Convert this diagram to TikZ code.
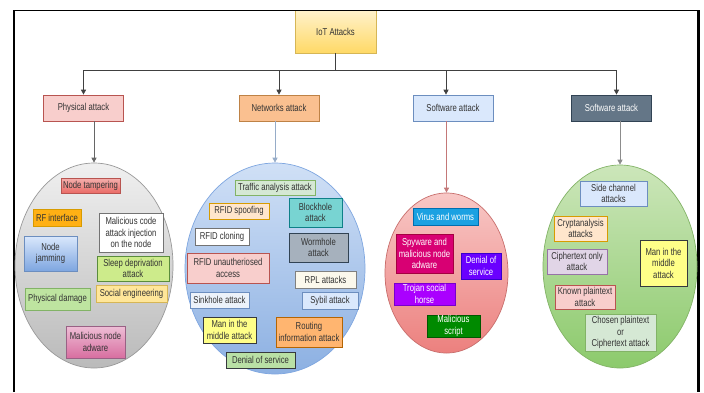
\documentclass[tikz,border=0pt]{standalone}
\usepackage{fontspec}
\setmainfont{Liberation Sans}[FakeStretch=0.77]
\usetikzlibrary{arrows.meta,shapes.geometric}

% palette
\definecolor{txt}{HTML}{333333}
\definecolor{rosefill}{HTML}{F8CECC}\definecolor{roseline}{HTML}{B85450}
\definecolor{orgfill}{HTML}{FFE6CC}\definecolor{orgline}{HTML}{D79B00}
\definecolor{bluefill}{HTML}{DAE8FC}\definecolor{blueline}{HTML}{6C8EBF}
\definecolor{greenfill}{HTML}{D5E8D4}\definecolor{greenline}{HTML}{82B366}
\definecolor{yelfill}{HTML}{FFFF88}\definecolor{darkline}{HTML}{36393D}
\definecolor{slatefill}{HTML}{647687}\definecolor{slateline}{HTML}{314354}
\definecolor{lilacfill}{HTML}{E1D5E7}\definecolor{lilacline}{HTML}{9673A6}
\definecolor{goldtop}{HTML}{FFF2CC}\definecolor{goldbot}{HTML}{FFD966}\definecolor{goldline}{HTML}{D6B656}

\tikzset{
  lbl/.style={font=\fontsize{10}{11.5}\selectfont},
  box/.style={draw, lbl, text=txt, inner sep=0pt, align=center, line width=0.7pt},
  topbox/.style={box, minimum width=80pt, minimum height=26pt},
  cloud/.style={ellipse, draw, inner sep=0pt, line width=0.7pt},
  bus/.style={draw=black!75, line width=0.8pt},
  tip/.style={-{Triangle[width=5pt,length=5pt]}},
}

\begin{document}
\begin{tikzpicture}[x=1pt,y=-1pt]
\useasboundingbox (0,0) rectangle (704,392);
\fill[white] (0,0) rectangle (704,392);

% root
\node[box, top color=goldtop, bottom color=goldbot, draw=goldline,
      minimum width=81pt, minimum height=43pt] (iot) at (335.5,31.5) {IoT Attacks};

% page frame
\draw[line width=2pt] (14,392) -- (14,10);
\draw[line width=3pt] (698,10) -- (698,392);
\draw[line width=1pt] (13,10) -- (699.5,10);

% categories
\node[topbox, fill=rosefill, draw=roseline] (pa) at (83.5,108) {Physical attack};
\node[topbox, fill={rgb,255:red,250;green,192;blue,144}, draw={rgb,255:red,190;green,130;blue,70}] (na) at (279,108) {Networks attack};
\node[topbox, fill=bluefill, draw=blueline] (sa) at (453,108) {Software attack};
\node[topbox, fill=slatefill, draw=slateline, text=white] (sd) at (611.5,108) {Software attack};

% distribution bus
\coordinate (busy) at (0,70);
\draw[bus] (iot.south) -- (iot.south |- busy);
\draw[bus] (pa.north |- busy) -- ([xshift=5pt]sd.north |- busy);
\draw[bus, tip] (pa.north |- busy) -- (pa.north);
\draw[bus, tip] (na.north |- busy) -- (na.north);
\draw[bus, tip] ([xshift=-7pt]sa.north |- busy) -- ([xshift=-7pt]sa.north);
\draw[bus, tip] ([xshift=5pt]sd.north |- busy) -- ([xshift=5pt]sd.north);

% groups
\node[cloud, top color=black!6, bottom color=black!27, draw=black!40,
      minimum width=158pt, minimum height=205pt] (ge) at (94,265.5) {};
\node[cloud, top color={rgb,255:red,208;green,224;blue,246}, bottom color={rgb,255:red,140;green,176;blue,226},
      draw={rgb,255:red,126;green,166;blue,224}, minimum width=180pt, minimum height=211pt] (be) at (275,268.5) {};
\node[cloud, top color={rgb,255:red,248;green,200;blue,198}, bottom color={rgb,255:red,236;green,128;blue,126},
      draw={rgb,255:red,200;green,110;blue,108}, minimum width=123pt, minimum height=160pt] (re) at (446.5,273) {};
\node[cloud, top color={rgb,255:red,204;green,230;blue,186}, bottom color={rgb,255:red,140;green,202;blue,108},
      draw=greenline, minimum width=154pt, minimum height=203pt] (ve) at (620,266.5) {};

% category to group links
\draw[tip, line width=0.7pt, draw=black!60] (pa.south -| ge.north) -- (ge.north);
\draw[tip, line width=0.7pt, draw={rgb,255:red,150;green,172;blue,200}] (na.south -| be.north) -- (be.north);
\draw[tip, line width=0.7pt, draw={rgb,255:red,196;green,120;blue,120}] (sa.south -| re.north) -- (re.north);
\draw[tip, line width=0.7pt, draw=black!45] (sd.south -| ve.north) -- (ve.north);

% physical attacks
\node[box, top color={rgb,255:red,244;green,176;blue,174}, bottom color={rgb,255:red,234;green,107;blue,102}, draw=roseline, minimum width=59pt, minimum height=15pt] (p1) at (90.5,185.5) {Node tampering};
\node[box, fill={rgb,255:red,255;green,176;blue,20}, draw=orgline, minimum width=48pt, minimum height=17pt] (p2) at (57,217.5) {RF interface};
\node[box, fill=white, draw=black!55, minimum width=64pt, minimum height=39pt] (p3) at (131,232.5) {Malicious code\\attack injection\\on the node};
\node[box, top color=bluefill, bottom color={rgb,255:red,126;green,166;blue,224}, draw=blueline, minimum width=53pt, minimum height=35pt] (p4) at (50.5,253.5) {Node\\jamming};
\node[box, fill={rgb,255:red,205;green,235;blue,139}, draw={rgb,255:red,90;green,140;blue,60}, minimum width=72pt, minimum height=25pt] (p5) at (133,268.5) {Sleep deprivation\\attack};
\node[box, fill={rgb,255:red,255;green,230;blue,153}, draw={rgb,255:red,214;green,182;blue,86}, minimum width=71pt, minimum height=17pt] (p6) at (131.5,293.5) {Social engineering};
\node[box, fill={rgb,255:red,190;green,228;blue,160}, draw=greenline, minimum width=65pt, minimum height=22pt] (p7) at (57.5,299) {Physical damage};
\node[box, top color={rgb,255:red,238;green,190;blue,214}, bottom color={rgb,255:red,216;green,110;blue,160}, draw={rgb,255:red,153;green,97;blue,133}, minimum width=59pt, minimum height=32pt] (p8) at (95.5,342) {Malicious node\\adware};

% network attacks
\node[box, fill=greenfill, draw=greenline, minimum width=80pt, minimum height=15pt] (n1) at (275,187.5) {Traffic analysis attack};
\node[box, fill=orgfill, draw=orgline, minimum width=60pt, minimum height=16pt] (n2) at (239,211) {RFID spoofing};
\node[box, fill={rgb,255:red,120;green,212;blue,210}, draw={rgb,255:red,14;green,128;blue,136}, minimum width=53pt, minimum height=29pt] (n3) at (315.5,212.5) {Blockhole\\attack};
\node[box, fill=white, draw=black!55, minimum width=54pt, minimum height=17pt] (n4) at (222,236.5) {RFID cloning};
\node[box, fill={rgb,255:red,166;green,177;blue,189}, draw=slateline, minimum width=59pt, minimum height=29pt] (n5) at (318.5,247.5) {Wormhole\\attack};
\node[box, fill=rosefill, draw=roseline, minimum width=82pt, minimum height=30pt] (n6) at (228,268) {RFID unautheriosed\\access};
\node[box, fill={rgb,255:red,251;green,248;blue,236}, draw=black!50, minimum width=61pt, minimum height=17pt] (n7) at (325.5,279.5) {RPL attacks};
\node[box, fill={rgb,255:red,236;green,242;blue,250}, draw=blueline, minimum width=59pt, minimum height=16pt] (n8) at (219.5,300) {Sinkhole attack};
\node[box, fill=bluefill, draw=blueline, minimum width=56pt, minimum height=17pt] (n9) at (330,300.5) {Sybil attack};
\node[box, fill=yelfill, draw=darkline, minimum width=53pt, minimum height=26pt] (n10) at (229.5,330) {Man in the\\middle attack};
\node[box, fill={rgb,255:red,255;green,181;blue,112}, draw={rgb,255:red,180;green,101;blue,4}, minimum width=66pt, minimum height=30pt] (n11) at (309,332) {Routing\\information attack};
\node[box, fill={rgb,255:red,185;green,224;blue,165}, draw=darkline, minimum width=69pt, minimum height=16pt] (n12) at (260.5,360) {Denial of service};

% software attacks
\tikzset{wbox/.style={box, text=white}}
\node[wbox, fill={rgb,255:red,27;green,161;blue,226}, draw={rgb,255:red,0;green,110;blue,175}, minimum width=65pt, minimum height=17pt] (s1) at (445.5,216.5) {Virus and worms};
\node[wbox, fill={rgb,255:red,216;green,0;blue,115}, draw={rgb,255:red,165;green,0;blue,64}, minimum width=57pt, minimum height=39pt] (s2) at (424.5,253.5) {Spyware and\\malicious node\\adware};
\node[wbox, fill={rgb,255:red,106;green,0;blue,255}, draw={rgb,255:red,55;green,0;blue,204}, minimum width=40pt, minimum height=26pt] (s3) at (481,266) {Denial of\\service};
\node[wbox, fill={rgb,255:red,170;green,0;blue,255}, draw={rgb,255:red,119;green,0;blue,204}, minimum width=61pt, minimum height=22pt] (s4) at (424.5,294) {Trojan social\\horse};
\node[wbox, fill={rgb,255:red,0;green,138;blue,0}, draw={rgb,255:red,0;green,87;blue,0}, minimum width=53pt, minimum height=22pt] (s5) at (453.5,326) {Malicious\\script};

% cryptographic attacks
\node[box, fill=bluefill, draw=blueline, minimum width=67pt, minimum height=25pt] (c1) at (613.5,193.5) {Side channel\\attacks};
\node[box, fill=orgfill, draw=orgline, minimum width=53pt, minimum height=25pt] (c2) at (580.5,228.5) {Cryptanalysis\\attacks};
\node[box, fill=lilacfill, draw=lilacline, minimum width=60pt, minimum height=25pt] (c3) at (577,261.5) {Ciphertext only\\attack};
\node[box, fill=yelfill, draw=darkline, minimum width=47pt, minimum height=46pt] (c4) at (663.5,263) {Man in the\\middle\\attack};
\node[box, fill=rosefill, draw=roseline, minimum width=60pt, minimum height=24pt] (c5) at (585,297) {Known plaintext\\attack};
\node[box, fill=greenfill, draw=greenline, minimum width=71pt, minimum height=37pt] (c6) at (620.5,332.5) {Chosen plaintext\\or\\Ciphertext attack};
\end{tikzpicture}
\end{document}
